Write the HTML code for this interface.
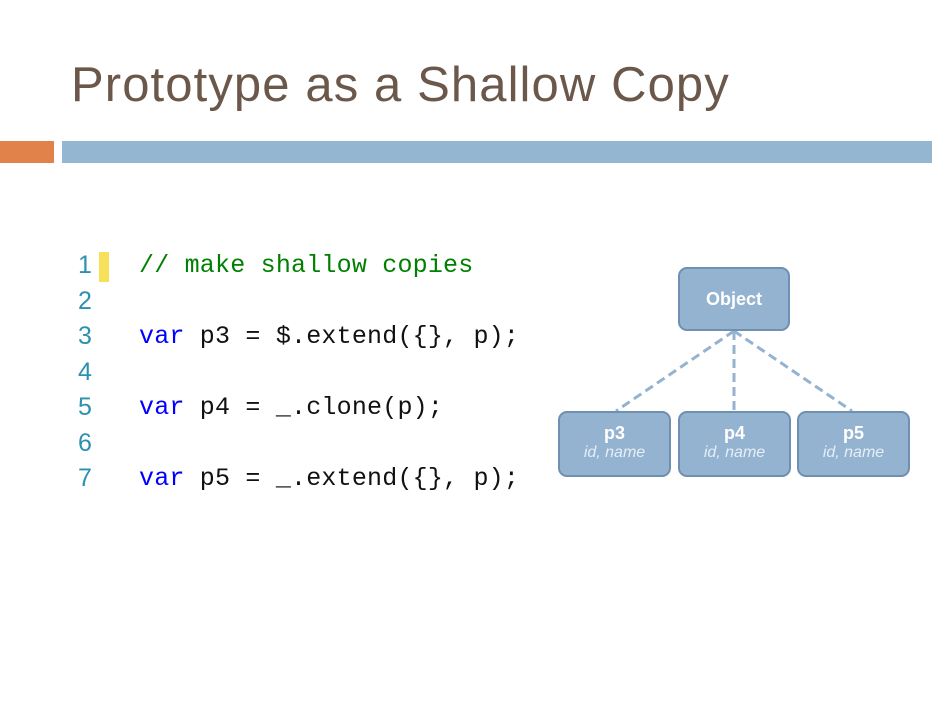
<!DOCTYPE html>
<html><head><style>
body{margin:0;width:932px;height:720px;background:#fff;position:relative;overflow:hidden;font-family:"Liberation Sans",sans-serif}
.t{position:absolute;left:71px;top:57px;font-size:49px;color:#6b584b;white-space:nowrap;letter-spacing:1.1px}
.bar{position:absolute;top:141px;height:22px}
.code{position:absolute;left:0;top:0;font-family:"Liberation Mono",monospace;font-size:25px}
.ln{position:absolute;left:78px;color:#2b91af;font-size:25px;font-family:"Liberation Sans",sans-serif}
.cl{position:absolute;left:139px;white-space:pre;color:#111;letter-spacing:0.2px}
.k{color:#0000ff}.c{color:#008000}
.box{position:absolute;background:#93b3d1;border:2px solid #6f90b0;border-radius:9px;box-sizing:border-box;color:#fff;text-align:center}
.box b{display:block;font-size:18px;margin-top:10px}
.box i{display:block;font-size:16px;color:#e6eef6}
</style></head><body>
<div class="t">Prototype as a Shallow Copy</div>
<div class="bar" style="left:0;width:54px;background:#e0824a"></div>
<div class="bar" style="left:62px;width:870px;background:#94b6d1"></div>
<div style="position:absolute;left:99px;top:252px;width:10px;height:30px;background:#f7e15a"></div>
<div class="code">
<div class="ln" style="top:251px">1</div>
<div class="ln" style="top:287px">2</div>
<div class="ln" style="top:322px">3</div>
<div class="ln" style="top:358px">4</div>
<div class="ln" style="top:393px">5</div>
<div class="ln" style="top:429px">6</div>
<div class="ln" style="top:464px">7</div>
<div class="cl c" style="top:251px">// make shallow copies</div>
<div class="cl" style="top:322px"><span class="k">var</span> p3 = $.extend({}, p);</div>
<div class="cl" style="top:393px"><span class="k">var</span> p4 = _.clone(p);</div>
<div class="cl" style="top:464px"><span class="k">var</span> p5 = _.extend({}, p);</div>
</div>
<svg style="position:absolute;left:0;top:0" width="932" height="720">
<g stroke="#93b3d1" stroke-width="3" stroke-dasharray="9,5" fill="none">
<line x1="734" y1="331" x2="616" y2="411"/>
<line x1="734" y1="331" x2="734" y2="411"/>
<line x1="734" y1="331" x2="852" y2="411"/>
</g></svg>
<div class="box" style="left:678px;top:267px;width:112px;height:64px"><b style="margin-top:20px">Object</b></div>
<div class="box" style="left:558px;top:411px;width:113px;height:66px"><b>p3</b><i>id, name</i></div>
<div class="box" style="left:678px;top:411px;width:113px;height:66px"><b>p4</b><i>id, name</i></div>
<div class="box" style="left:797px;top:411px;width:113px;height:66px"><b>p5</b><i>id, name</i></div>
</body></html>
